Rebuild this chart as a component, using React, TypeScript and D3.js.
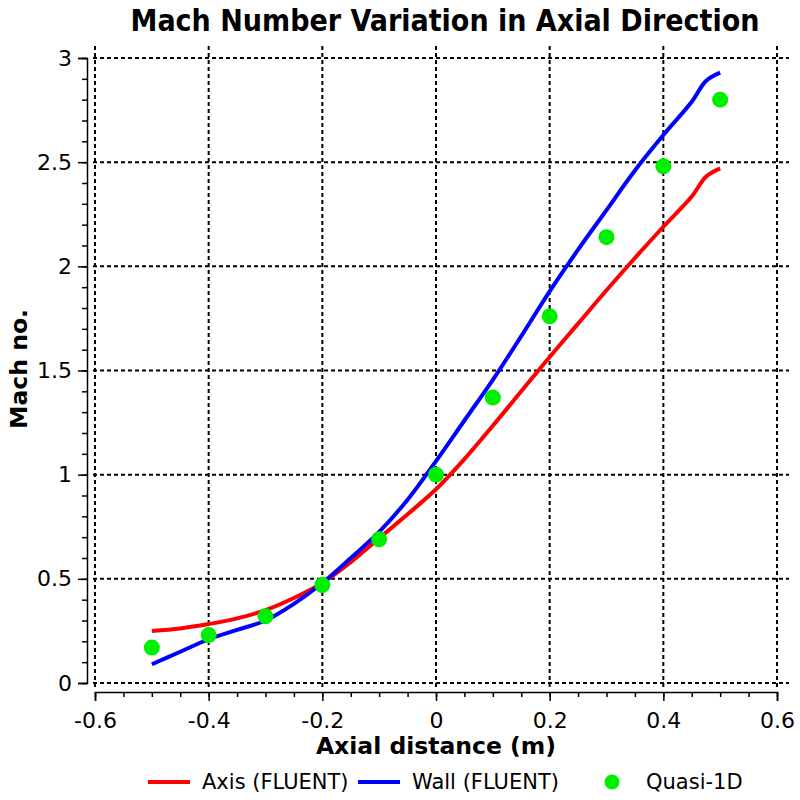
import * as d3 from "d3";
import { useEffect, useRef } from "react";

// axial positions (m) of the FLUENT curves
const xFluent = [-0.5, -0.45, -0.4, -0.35, -0.3, -0.25, -0.2, -0.15, -0.1, -0.05, 0, 0.05, 0.1, 0.15, 0.2, 0.25, 0.3, 0.35, 0.4, 0.45, 0.475, 0.5];
const axisMach = [0.25, 0.262, 0.283, 0.31, 0.35, 0.408, 0.48, 0.58, 0.695, 0.81, 0.93, 1.075, 1.235, 1.4, 1.565, 1.725, 1.885, 2.04, 2.19, 2.335, 2.43, 2.47];
const wallMach = [0.09, 0.15, 0.21, 0.255, 0.3, 0.38, 0.48, 0.6, 0.725, 0.88, 1.065, 1.26, 1.455, 1.665, 1.88, 2.08, 2.27, 2.46, 2.63, 2.79, 2.89, 2.93];

// quasi-1D solution
const xQuasi = [-0.5, -0.4, -0.3, -0.2, -0.1, 0, 0.1, 0.2, 0.3, 0.4, 0.5];
const quasiMach = [0.17, 0.23, 0.32, 0.47, 0.69, 1.0, 1.37, 1.76, 2.14, 2.48, 2.8];

const xTicks = [-0.6, -0.4, -0.2, 0, 0.2, 0.4, 0.6];
const yTicks = [0, 0.5, 1, 1.5, 2, 2.5, 3];

const legendItems = ["Axis (FLUENT)", "Wall (FLUENT)", "Quasi-1D"];

const FONT = "Tahoma, 'DejaVu Sans', sans-serif";

function MachChart() {
  const ref = useRef<SVGSVGElement | null>(null);

  useEffect(() => {
    document.body.style.margin = "0";
    document.body.style.overflow = "hidden";
    const svg = d3.select(ref.current);
    svg.selectAll("*").remove();

    const left = 95, right = 777, top = 58, bottom = 683;
    const x = d3.scaleLinear().domain([-0.6, 0.6]).range([left, right]);
    const y = d3.scaleLinear().domain([0, 3]).range([bottom, top]);
    const fmt = (d: any) => String(Math.round(d * 10) / 10);

    // title
    svg.append("text")
      .attr("x", 445).attr("y", 31)
      .attr("text-anchor", "middle")
      .attr("font-family", "'DejaVu Sans Condensed', 'DejaVu Sans', sans-serif")
      .attr("font-weight", "bold")
      .attr("font-size", 30)
      .text("Mach Number Variation in Axial Direction");

    // grid
    const grid = svg.append("g")
      .attr("stroke", "#000").attr("stroke-width", 2).attr("stroke-dasharray", "4,3");
    grid.selectAll("line.v").data(xTicks).enter().append("line")
      .attr("x1", (d) => x(d)).attr("x2", (d) => x(d))
      .attr("y1", y(3) - 12).attr("y2", bottom + 4);
    grid.selectAll("line.h").data(yTicks).enter().append("line")
      .attr("x1", left - 2).attr("x2", right + 12)
      .attr("y1", (d) => y(d)).attr("y2", (d) => y(d));

    // y axis
    const yAxis = d3.axisLeft(y).tickValues(yTicks).tickSize(9).tickPadding(6).tickFormat(fmt);
    const gy = svg.append("g").attr("transform", "translate(87,0)").call(yAxis);
    const yMinor = d3.axisLeft(y).tickValues(d3.range(0, 3.001, 0.1)).tickSize(5).tickFormat(() => "");
    svg.append("g").attr("transform", "translate(87,0)").call(yMinor)
      .call((g) => g.select(".domain").remove());

    // x axis
    const xAxis = d3.axisBottom(x).tickValues(xTicks).tickSize(9).tickPadding(11).tickFormat(fmt);
    const gx = svg.append("g").attr("transform", "translate(0,692)").call(xAxis);
    const xMinor = d3.axisBottom(x).tickValues(d3.range(-0.6, 0.6001, 0.05)).tickSize(5).tickFormat(() => "");
    svg.append("g").attr("transform", "translate(0,692)").call(xMinor)
      .call((g) => g.select(".domain").remove());

    [gx, gy].forEach((g) => {
      g.selectAll("text").attr("font-family", FONT).attr("font-size", 22).attr("fill", "#000");
      g.select(".domain").attr("stroke-width", 1.5);
    });
    svg.selectAll(".tick line").attr("stroke-width", 1.5);

    // axis titles
    svg.append("text")
      .attr("x", 436).attr("y", 754)
      .attr("text-anchor", "middle")
      .attr("font-family", FONT).attr("font-weight", "bold").attr("font-size", 23.5)
      .text("Axial distance (m)");
    svg.append("text")
      .attr("transform", "translate(27,369) rotate(-90)")
      .attr("text-anchor", "middle")
      .attr("font-family", FONT).attr("font-weight", "bold").attr("font-size", 23.5)
      .text("Mach no.");

    // curves
    const line = d3.line<number>()
      .x((_, i) => x(xFluent[i]))
      .y((d) => y(d))
      .curve(d3.curveCatmullRom.alpha(0.5));
    svg.append("path").attr("d", line(axisMach))
      .attr("fill", "none").attr("stroke", "#ff0000").attr("stroke-width", 4);
    svg.append("path").attr("d", line(wallMach))
      .attr("fill", "none").attr("stroke", "#0000ff").attr("stroke-width", 4);

    svg.selectAll("circle.q").data(quasiMach).enter().append("circle")
      .attr("cx", (_, i) => x(xQuasi[i]))
      .attr("cy", (d) => y(d))
      .attr("r", 8)
      .attr("fill", "#00ee00");

    // legend
    const ly = 782;
    const lg = svg.append("g");
    lg.append("line").attr("x1", 148).attr("x2", 190).attr("y1", ly).attr("y2", ly)
      .attr("stroke", "#ff0000").attr("stroke-width", 4);
    lg.append("line").attr("x1", 358).attr("x2", 400).attr("y1", ly).attr("y2", ly)
      .attr("stroke", "#0000ff").attr("stroke-width", 4);
    lg.append("circle").attr("cx", 612).attr("cy", ly).attr("r", 7.5).attr("fill", "#00ee00");
    const lx = [202, 412, 646];
    lg.selectAll("text").data(legendItems).enter().append("text")
      .attr("x", (_, i) => lx[i]).attr("y", ly + 7)
      .attr("font-family", FONT).attr("font-size", 21)
      .text((d) => d);
  }, []);

  return <svg ref={ref} width={800} height={800} style={{ display: "block", background: "#fff" }}></svg>;
}

export default function App() {
  return <MachChart />;
}
